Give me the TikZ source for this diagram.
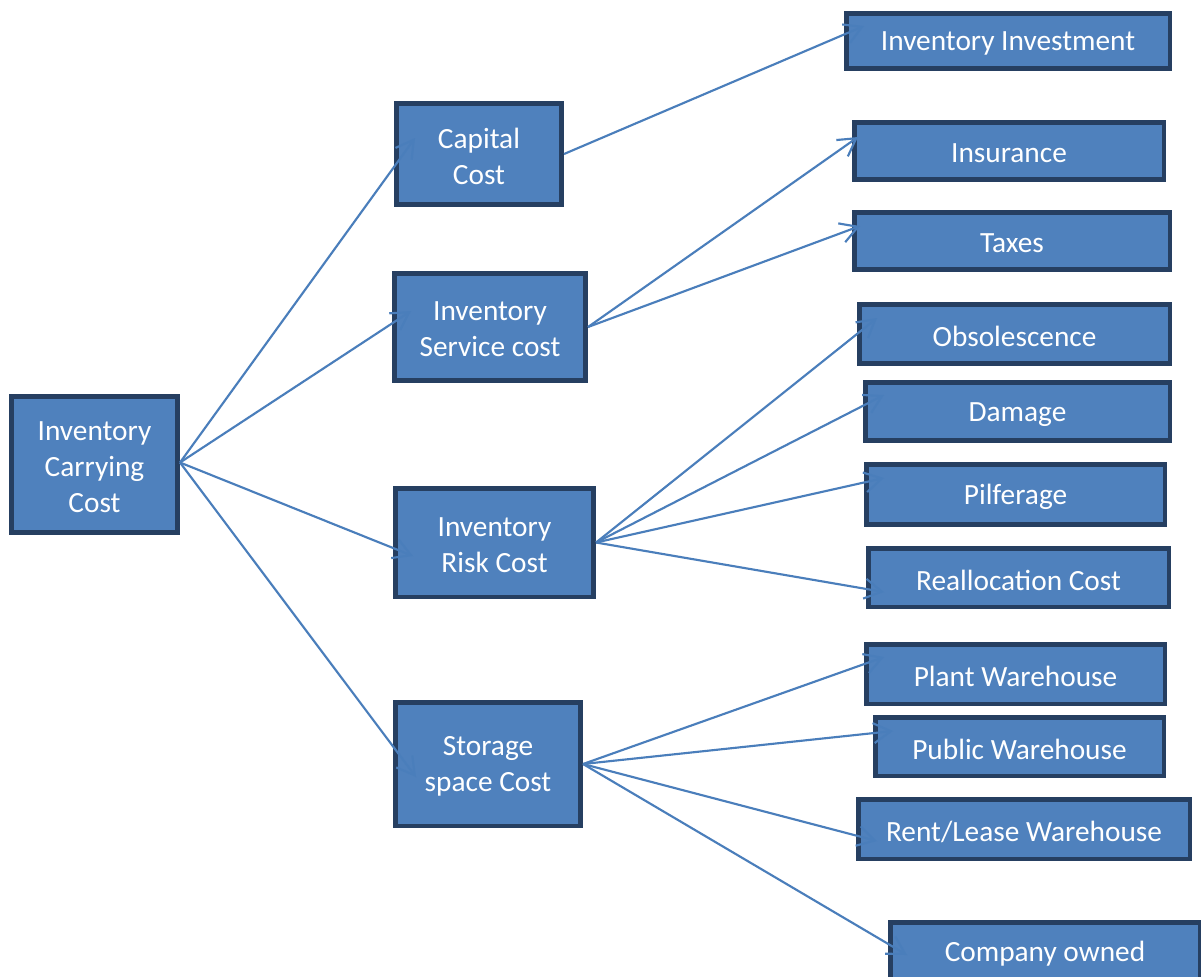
\documentclass[tikz,border=0pt]{standalone}
\usepackage{fontspec}
\setmainfont{Carlito}
\usetikzlibrary{arrows.meta}
\definecolor{boxfill}{HTML}{4F81BD}
\definecolor{boxline}{HTML}{263F61}
\definecolor{conncol}{HTML}{4A7EBB}
\tikzset{
  box/.style={draw=boxline, fill=boxfill, line width=3.4pt, inner sep=0pt},
  boxtext/.style={text=white, align=center, inner sep=0pt,
    font=\fontsize{22}{27}\selectfont},
  conn/.style={draw=conncol, line width=1.6pt,
    -{Straight Barb[length=13pt,width=15pt,line width=1.6pt]}}
}
% name, x1, y1, x2, y2, text  (pixel coordinates of outer edges)
\newcommand\pxbox[6]{%
  \node[box, minimum width={(#4-#2-4.5)*0.75pt}, minimum height={(#5-#3-4.5)*0.75pt}]
    (#1) at ({(#2+#4)/2},{(#3+#5)/2}) {};
  \node[boxtext] (#1-t) at ([yshift=-2pt]#1.center) {#6};}
\begin{document}
\begin{tikzpicture}[x=0.75pt,y=-0.75pt]
\clip (0,0) rectangle (1201,976);
\useasboundingbox (0,0) rectangle (1201,976);
\fill[white] (0,0) rectangle (1201,976);
\pxbox{root}{9}{394}{180}{535}{Inventory\\Carrying\\Cost}
\pxbox{cap}{394}{101}{564}{207}{Capital\\Cost}
\pxbox{serv}{392}{271}{588}{383}{Inventory\\Service cost}
\pxbox{risk}{393}{486}{596}{599}{Inventory\\Risk Cost}
\pxbox{stor}{393}{700}{583}{828}{Storage\\space Cost}
\pxbox{inv}{844}{11}{1172}{71}{Inventory Investment}
\pxbox{ins}{852}{120}{1166}{182}{Insurance}
\pxbox{tax}{852}{210}{1172}{272}{Taxes}
\pxbox{obs}{857}{302}{1172}{366}{Obsolescence}
\pxbox{dam}{863}{380}{1172}{443}{Damage}
\pxbox{pil}{864}{462}{1167}{527}{Pilferage}
\pxbox{real}{866}{546}{1171}{609}{Reallocation Cost}
\pxbox{plant}{864}{642}{1167}{706}{Plant Warehouse}
\pxbox{pub}{873}{715}{1166}{778}{Public Warehouse}
\pxbox{rent}{856}{797}{1192}{861}{Rent/Lease Warehouse}
\pxbox{comp}{888}{920}{1202}{982}{Company owned}
% arrow tips inside the target boxes
\coordinate (capIn) at (415,138);
\coordinate (servIn) at (411,311);
\coordinate (riskIn) at (413,556);
\coordinate (storIn) at (416,777);
\coordinate (invIn) at (864,26);
\coordinate (insIn) at (858,137);
\coordinate (taxIn) at (860,226);
\coordinate (obsIn) at (877,318);
\coordinate (damIn) at (884,395);
\coordinate (pilIn) at (884,478);
\coordinate (realIn) at (884,592);
\coordinate (plantIn) at (884,657);
\coordinate (pubIn) at (893,731);
\coordinate (rentIn) at (877,841);
\coordinate (compIn) at (907,955);
\draw[conn] ([yshift=1.5pt]root.east) -- (capIn);
\draw[conn] ([yshift=1.5pt]root.east) -- (servIn);
\draw[conn] ([yshift=1.5pt]root.east) -- (riskIn);
\draw[conn] ([yshift=1.5pt]root.east) -- (storIn);
\draw[conn] (cap.east) -- (invIn);
\draw[conn] (serv.east) -- (insIn);
\draw[conn] (serv.east) -- (taxIn);
\draw[conn] (risk.east) -- (obsIn);
\draw[conn] (risk.east) -- (damIn);
\draw[conn] (risk.east) -- (pilIn);
\draw[conn] (risk.east) -- (realIn);
\draw[conn] (stor.east) -- (plantIn);
\draw[conn] (stor.east) -- (pubIn);
\draw[conn] (stor.east) -- (rentIn);
\draw[conn] (stor.east) -- (compIn);
\end{tikzpicture}
\end{document}
